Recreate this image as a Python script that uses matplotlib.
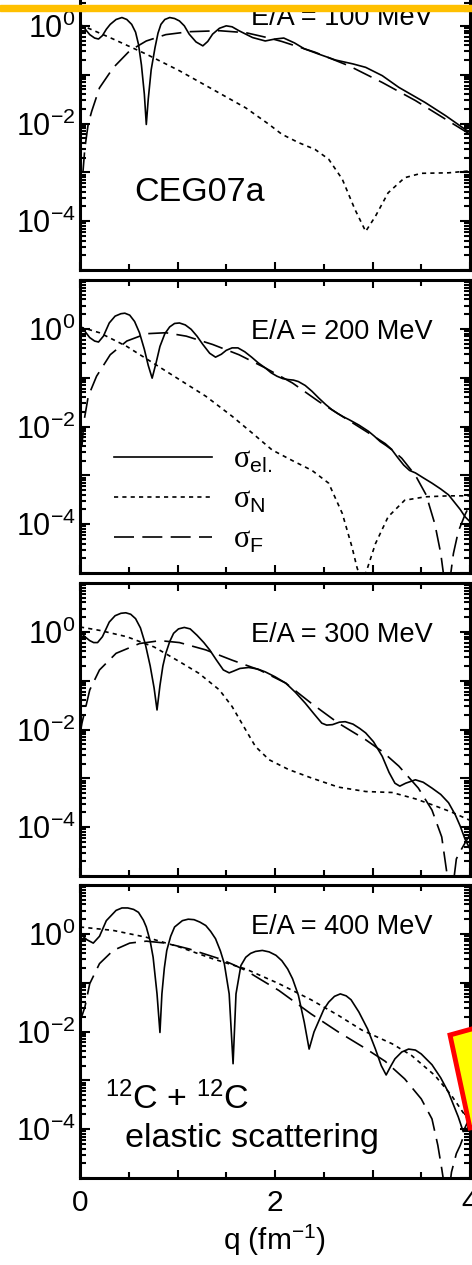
import numpy as np
import matplotlib.pyplot as plt
from matplotlib.ticker import FixedLocator, FuncFormatter, MultipleLocator
from matplotlib.patches import Rectangle, Polygon

plt.rcParams['font.family'] = ['Liberation Sans', 'DejaVu Sans']
plt.rcParams['mathtext.fontset'] = 'custom'
plt.rcParams['mathtext.rm'] = 'Liberation Sans'
plt.rcParams['mathtext.it'] = 'Liberation Sans:italic'
plt.rcParams['mathtext.sf'] = 'Liberation Serif'

energies = [100, 200, 300, 400]

# values, stored as log10(sigma)
# E/A = 100 MeV
q_el_100 = [0.0, 0.05, 0.10, 0.15, 0.19, 0.23, 0.27, 0.31, 0.37, 0.43, 0.48, 0.53, 0.57, 0.60, 0.63, 0.66,
            0.68, 0.70, 0.73, 0.77, 0.80, 0.83, 0.87, 0.92, 0.97, 1.02, 1.07, 1.12, 1.19, 1.26, 1.31, 1.36,
            1.43, 1.50, 1.56, 1.63, 1.77, 1.90, 2.00, 2.09, 2.20, 2.30, 2.45, 2.62, 2.80, 2.93, 3.10, 3.27,
            3.54, 3.75, 3.95, 4.0]
el_100 = [0.03, -0.06, -0.18, -0.25, -0.27, -0.20, -0.07, 0.03, 0.13, 0.17, 0.13, 0.03, -0.13, -0.38, -0.8, -1.4,
          -2.02, -1.5, -0.9, -0.44, -0.15, 0.03, 0.13, 0.17, 0.15, 0.10, 0.0, -0.17, -0.33, -0.41, -0.32, -0.17,
          -0.05, 0.0, -0.02, -0.10, -0.24, -0.31, -0.27, -0.25, -0.35, -0.47, -0.58, -0.70, -0.78, -0.85, -1.02, -1.26,
          -1.57, -1.84, -2.12, -2.18]
q_n_100 = [0.0, 0.03, 0.34, 0.68, 1.02, 1.36, 1.70, 1.94, 2.07, 2.24, 2.41, 2.55, 2.69, 2.82, 2.93, 3.03,
           3.16, 3.33, 3.50, 3.78, 4.0]
n_100 = [0.02, 0.0, -0.27, -0.58, -0.92, -1.30, -1.68, -2.02, -2.22, -2.39, -2.53, -2.73, -3.14, -3.76, -4.21, -3.90,
         -3.42, -3.11, -3.02, -3.01, -2.97]
q_f_100 = [0.03, 0.05, 0.085, 0.12, 0.20, 0.34, 0.51, 0.68, 0.88, 1.12, 1.43, 1.70, 1.94, 2.07, 2.41, 2.76,
           3.10, 3.44, 3.78, 4.0]
f_100 = [-3.0, -2.5, -2.0, -1.75, -1.27, -0.86, -0.51, -0.31, -0.18, -0.12, -0.10, -0.14, -0.25, -0.32, -0.54, -0.82,
         -1.16, -1.53, -1.95, -2.22]

# E/A = 200 MeV
q_el_200 = [0.0, 0.05, 0.10, 0.15, 0.19, 0.24, 0.30, 0.36, 0.42, 0.46, 0.51, 0.56, 0.61, 0.66, 0.70, 0.74,
            0.78, 0.82, 0.87, 0.92, 0.97, 1.02, 1.08, 1.14, 1.20, 1.26, 1.33, 1.39, 1.45, 1.50, 1.56, 1.62,
            1.69, 1.76, 1.83, 1.90, 1.96, 2.02, 2.08, 2.14, 2.19, 2.24, 2.31, 2.38, 2.45, 2.52, 2.58, 2.64,
            2.70, 2.76, 2.86, 2.96, 3.02, 3.08, 3.14, 3.20, 3.26, 3.32, 3.38, 3.44, 3.52, 3.61, 3.70, 3.78,
            3.84, 3.90, 3.95, 4.0]
el_200 = [0.05, -0.05, -0.18, -0.25, -0.27, -0.15, 0.12, 0.26, 0.31, 0.32, 0.28, 0.15, -0.08, -0.42, -0.75, -1.01,
          -0.70, -0.36, -0.10, 0.04, 0.11, 0.12, 0.08, -0.01, -0.15, -0.32, -0.50, -0.58, -0.52, -0.44, -0.39, -0.39,
          -0.47, -0.58, -0.70, -0.80, -0.90, -0.97, -1.02, -1.04, -1.05, -1.08, -1.16, -1.28, -1.42, -1.55, -1.65, -1.73,
          -1.80, -1.86, -1.97, -2.10, -2.20, -2.31, -2.39, -2.48, -2.64, -2.79, -2.90, -2.95, -3.05, -3.16, -3.28, -3.40,
          -3.55, -3.70, -3.85, -3.95]
q_n_200 = [0.0, 0.20, 0.48, 0.75, 1.02, 1.29, 1.56, 1.77, 1.97, 2.18, 2.38, 2.55, 2.69, 2.79, 2.84, 2.89,
           2.94, 3.03, 3.16, 3.33, 3.54, 3.78, 4.0]
n_200 = [0.04, -0.08, -0.36, -0.70, -1.04, -1.38, -1.79, -2.14, -2.48, -2.70, -2.90, -3.16, -3.78, -4.47, -4.88, -5.2,
         -4.95, -4.40, -3.85, -3.51, -3.44, -3.42, -3.42]
q_f_200 = [0.02, 0.04, 0.085, 0.17, 0.31, 0.48, 0.68, 0.88, 1.09, 1.36, 1.63, 1.90, 2.18, 2.45, 2.72, 2.99,
           3.13, 3.30, 3.44, 3.55, 3.64, 3.70, 3.74, 3.79, 3.83, 3.88, 3.95, 4.0]
f_200 = [-2.4, -1.9, -1.38, -0.97, -0.53, -0.25, -0.10, -0.08, -0.15, -0.32, -0.53, -0.80, -1.11, -1.49, -1.83, -2.17,
         -2.35, -2.65, -3.0, -3.4, -4.0, -4.6, -5.2, -5.2, -4.6, -4.15, -3.8, -3.6]

# E/A = 300 MeV
q_el_300 = [0.0, 0.05, 0.10, 0.14, 0.18, 0.23, 0.30, 0.36, 0.42, 0.47, 0.52, 0.57, 0.62, 0.67, 0.72, 0.76,
            0.79, 0.82, 0.85, 0.88, 0.92, 0.96, 1.01, 1.07, 1.13, 1.20, 1.27, 1.33, 1.40, 1.47, 1.53, 1.58,
            1.64, 1.73, 1.82, 1.90, 2.00, 2.11, 2.21, 2.31, 2.40, 2.48, 2.53, 2.59, 2.66, 2.72, 2.80, 2.87,
            2.93, 3.01, 3.10, 3.17, 3.23, 3.28, 3.34, 3.44, 3.52, 3.61, 3.70, 3.78, 3.85, 3.90, 3.95, 4.0]
el_300 = [0.0, -0.10, -0.18, -0.22, -0.22, -0.10, 0.20, 0.33, 0.38, 0.39, 0.36, 0.27, 0.08, -0.25, -0.70, -1.15,
          -1.60, -1.10, -0.70, -0.44, -0.20, -0.03, 0.06, 0.09, 0.06, -0.07, -0.22, -0.37, -0.58, -0.78, -0.84, -0.80,
          -0.75, -0.73, -0.76, -0.82, -0.92, -1.05, -1.24, -1.46, -1.68, -1.87, -1.91, -1.90, -1.85, -1.84, -1.89, -1.98,
          -2.07, -2.25, -2.55, -2.88, -3.10, -3.16, -3.10, -3.03, -3.08, -3.20, -3.33, -3.50, -3.75, -3.98, -4.25, -4.45]
q_n_300 = [0.0, 0.20, 0.48, 0.76, 1.02, 1.22, 1.43, 1.56, 1.70, 1.80, 1.94, 2.14, 2.37, 2.65, 2.93, 3.20,
           3.44, 3.61, 3.81, 4.0]
n_300 = [0.10, 0.03, -0.10, -0.31, -0.61, -0.85, -1.19, -1.53, -2.01, -2.35, -2.62, -2.82, -2.99, -3.18, -3.27, -3.29,
         -3.42, -3.54, -3.69, -3.86]
q_f_300 = [0.0, 0.02, 0.10, 0.20, 0.37, 0.61, 0.82, 1.02, 1.29, 1.56, 1.84, 2.11, 2.37, 2.65, 2.93, 3.10,
           3.27, 3.47, 3.61, 3.71, 3.76, 3.79, 3.82, 3.86, 3.91, 3.95, 4.0]
f_300 = [-2.1, -1.87, -1.19, -0.78, -0.44, -0.24, -0.18, -0.22, -0.37, -0.58, -0.78, -1.05, -1.46, -1.87, -2.21, -2.45,
         -2.75, -3.2, -3.65, -4.2, -4.9, -5.3, -5.3, -4.65, -4.46, -4.32, -4.15]

# E/A = 400 MeV
q_el_400 = [0.0, 0.07, 0.136, 0.20, 0.27, 0.37, 0.43, 0.49, 0.55, 0.60, 0.65, 0.68, 0.72, 0.75, 0.79, 0.82,
            0.84, 0.865, 0.89, 0.93, 0.97, 1.05, 1.11, 1.17, 1.23, 1.29, 1.34, 1.39, 1.44, 1.48, 1.53, 1.57,
            1.60, 1.65, 1.70, 1.75, 1.80, 1.87, 1.94, 2.01, 2.07, 2.13, 2.18, 2.24, 2.30, 2.35, 2.40, 2.45,
            2.50, 2.55, 2.61, 2.67, 2.73, 2.78, 2.86, 2.95, 3.03, 3.09, 3.14, 3.19, 3.23, 3.30, 3.37, 3.44,
            3.50, 3.61, 3.70, 3.78, 3.88, 3.93, 3.96, 4.0]
el_400 = [0.0, -0.12, -0.19, -0.05, 0.27, 0.48, 0.53, 0.53, 0.50, 0.44, 0.28, 0.14, -0.15, -0.48, -1.23, -2.02,
          -1.23, -0.70, -0.34, -0.05, 0.14, 0.27, 0.30, 0.29, 0.24, 0.17, 0.05, -0.10, -0.35, -0.61, -1.23, -2.66,
          -1.23, -0.65, -0.48, -0.40, -0.36, -0.34, -0.37, -0.44, -0.55, -0.72, -0.92, -1.26, -1.81, -2.36, -2.01, -1.78,
          -1.55, -1.40, -1.28, -1.23, -1.27, -1.35, -1.60, -1.95, -2.36, -2.70, -2.89, -2.70, -2.56, -2.42, -2.36, -2.38,
          -2.46, -2.68, -2.95, -3.25, -3.75, -4.05, -3.92, -3.75]
q_n_400 = [0.0, 0.34, 0.68, 1.02, 1.36, 1.70, 2.04, 2.37, 2.65, 2.89, 3.20, 3.40, 3.64, 3.81, 3.95, 4.0]
n_400 = [0.14, 0.07, -0.07, -0.27, -0.51, -0.72, -1.02, -1.35, -1.67, -1.97, -2.25, -2.49, -2.90, -3.31, -3.72, -3.85]
q_f_400 = [0.0, 0.05, 0.10, 0.20, 0.34, 0.51, 0.68, 0.88, 1.12, 1.29, 1.43, 1.56, 1.70, 1.84, 2.04, 2.37,
           2.65, 2.93, 3.13, 3.33, 3.50, 3.61, 3.67, 3.71, 3.74, 3.79, 3.81, 3.86, 3.90, 3.95, 4.0]
f_400 = [-1.8, -1.5, -1.02, -0.61, -0.34, -0.19, -0.15, -0.19, -0.31, -0.42, -0.51, -0.62, -0.75, -0.92, -1.16, -1.64,
         -2.01, -2.35, -2.61, -2.97, -3.38, -3.79, -4.33, -4.81, -5.2, -5.2, -4.88, -4.5, -4.33, -4.06, -3.88]

q_el = [q_el_100, q_el_200, q_el_300, q_el_400]
sig_el = [el_100, el_200, el_300, el_400]
q_n = [q_n_100, q_n_200, q_n_300, q_n_400]
sig_n = [n_100, n_200, n_300, n_400]
q_f = [q_f_100, q_f_200, q_f_300, q_f_400]
sig_f = [f_100, f_200, f_300, f_400]

# energy label heights (log10) inside each panel
label_y = [0.02, -0.2, -0.2, 0.0]

W, H = 472, 1265
fig = plt.figure(figsize=(W / 100, H / 100), dpi=100)

bottoms = [270, 573, 876, 1178]
ax_h = 293
left, right = 80, 470

def fmt(v, pos):
    e = int(round(np.log10(v)))
    if e in (0, -2, -4):
        return r'$\mathregular{10^{%d}}$' % e
    return ''

axes = []
for i, E in enumerate(energies):
    ax = fig.add_axes([left / W, 1 - bottoms[i] / H, (right - left) / W, ax_h / H])
    axes.append(ax)
    ax.plot(q_el[i], 10.0 ** np.array(sig_el[i]), color='black', lw=1.2, ls='-', label=r'$\mathsf{\sigma}_{\mathrm{el.}}$')
    ax.plot(q_n[i], 10.0 ** np.array(sig_n[i]), color='black', lw=1.2, ls=(0, (2.5, 2.5)), label=r'$\mathsf{\sigma}_{\mathrm{N}}$')
    ax.plot(q_f[i], 10.0 ** np.array(sig_f[i]), color='black', lw=1.2, ls=(0, (12, 5)), label=r'$\mathsf{\sigma}_{\mathrm{F}}$')

    ax.set_yscale('log')
    ax.set_xlim(0, 4)
    ax.set_ylim(1e-5, 1e1)
    ax.yaxis.set_major_locator(FixedLocator([10.0 ** k for k in range(-5, 2)]))
    ax.yaxis.set_major_formatter(FuncFormatter(fmt))
    ax.yaxis.set_minor_locator(FixedLocator([m * 10.0 ** k for k in range(-5, 1) for m in range(2, 10)]))
    ax.xaxis.set_major_locator(MultipleLocator(1))
    ax.xaxis.set_minor_locator(MultipleLocator(0.5))
    ax.tick_params(which='both', direction='in', top=True, right=True, width=1.5)
    ax.tick_params(axis='y', which='major', length=7, labelsize=22, pad=3)
    ax.tick_params(axis='y', which='minor', length=4)
    ax.tick_params(axis='x', which='major', length=6, labelsize=21.5, pad=8)
    ax.tick_params(axis='x', which='minor', length=4.5)
    for s in ax.spines.values():
        s.set_linewidth(2.2)
    ax.xaxis.set_major_formatter(FuncFormatter(lambda v, p: '%d' % v if int(v) % 2 == 0 else ''))
    if i < 3:
        ax.tick_params(axis='x', labelbottom=False)

    ax.text(3.62, 10 ** label_y[i], 'E/A = %d MeV' % E, ha='right', va='baseline', fontsize=19.5)

axes[0].text(0.56, 10 ** -3.59, 'CEG07a', ha='left', va='baseline', fontsize=24.5)
axes[3].text(0.26, 10 ** -3.58, r'$\mathregular{^{12}}$C + $\mathregular{^{12}}$C', ha='left', va='baseline', fontsize=24.5)
axes[3].text(0.46, 10 ** -4.36, 'elastic scattering', ha='left', va='baseline', fontsize=24.5)
axes[3].set_xlabel(r'q (fm$\mathregular{^{-1}}$)', fontsize=21.5, labelpad=4)

axes[1].legend(loc='upper left', bbox_to_anchor=(0.087, 0.437), frameon=False, fontsize=22,
               handlelength=3.2, handletextpad=0.69, labelspacing=0.32, borderpad=0, borderaxespad=0)

# decorations at the edges of the cut-out
fig.add_artist(Rectangle((0, 1 - 11 / H), 1, 6 / H, transform=fig.transFigure, color='#FFC000', zorder=10))
fig.add_artist(Polygon([(450 / W, 1 - 1035 / H), (540 / W, 1 - 1010 / H), (560 / W, 1 - 1110 / H), (470 / W, 1 - 1128 / H)],
                       closed=True, transform=fig.transFigure, facecolor='#FFFF00', edgecolor='#FF0000', lw=3.5, zorder=10))

fig.savefig('out.png', dpi=100)
